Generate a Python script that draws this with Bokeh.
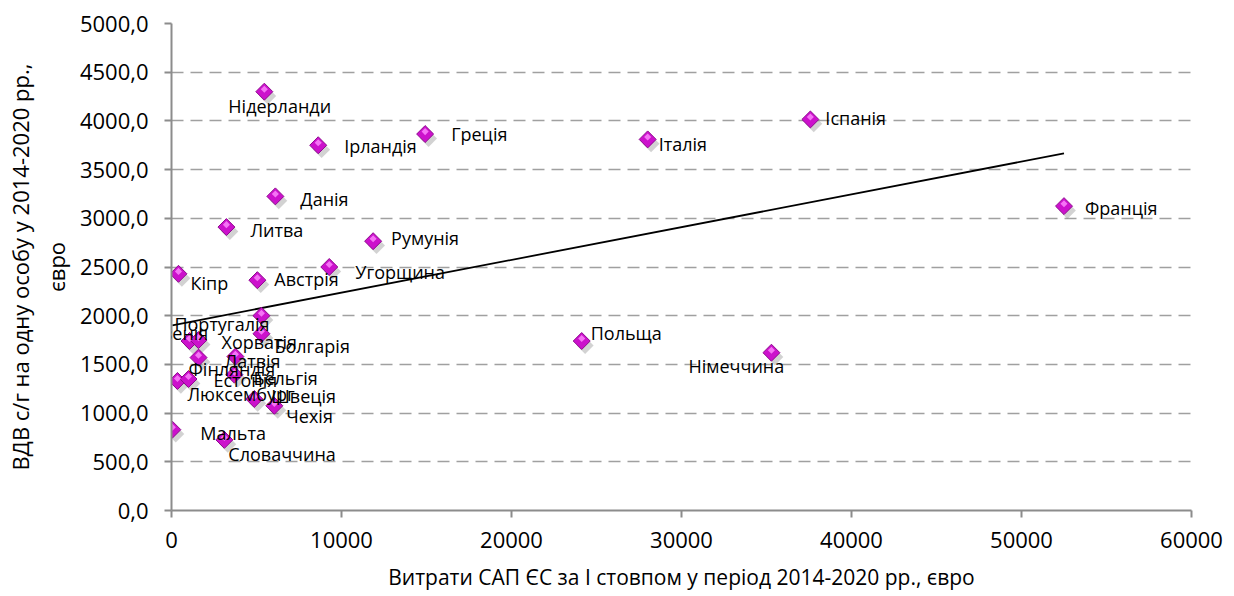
import numpy as np
from bokeh.plotting import figure
from bokeh.models import ColumnDataSource, CustomJSTickFormatter, FixedTicker, Label
from bokeh.transform import dodge
from bokeh.embed import file_html
from bokeh.resources import INLINE

# ---- data ----
countries = ["Нідерланди", "Ірландія", "Греція", "Данія", "Литва", "Румунія", "Угорщина",
             "Австрія", "Кіпр", "Італія", "Іспанія", "Франція", "Польща", "Німеччина",
             "Португалія", "Болгарія", "Словенія", "Хорватія", "Латвія", "Естонія",
             "Бельгія", "Люксембург", "Фінляндія", "Швеція", "Чехія", "Мальта", "Словаччина"]
cap_spending = [5460, 8630, 14920, 6110, 3230, 11860, 9280,
                5050, 410, 28010, 37580, 52500, 24130, 35290,
                5290, 5290, 1060, 1590, 1590, 3760,
                3700, 350, 1000, 4870, 6050, 50, 3110]
gva_per_person = [4300, 3750, 3865, 3225, 2910, 2765, 2500,
                  2365, 2430, 3810, 4015, 3125, 1740, 1620,
                  2000, 1815, 1740, 1750, 1570, 1580,
                  1395, 1330, 1350, 1145, 1075, 830, 725]

x_ticks = [0, 10000, 20000, 30000, 40000, 50000, 60000]
y_ticks = [0, 500, 1000, 1500, 2000, 2500, 3000, 3500, 4000, 4500, 5000]

# ---- label placement (screen px, layout only; dy positive = down) ----
label_dx = [-36, 26, 26, 25, 24, 18, 26, 17, 12, 11, 15, 21, 9, -83,
            -87, 13, -60, 23, 26, -22, 19, 10, 0, 17, 12, 28, 4]
label_dy = [14, 1, 0, 3, 3, -3, 5, -1, 9, 5, -1, 2, -8, 13,
            8, 12, -8, 2, 3, 23, 3, 13, -10, -3, 10, 3, 14]

src = ColumnDataSource(dict(x=cap_spending, y=gva_per_person, name=countries))

FONT = "Open Sans"

p = figure(width=1226, height=594, output_backend="svg", toolbar_location=None,
           x_range=(0, 60000), y_range=(0, 5000),
           min_border_left=171, min_border_right=35, min_border_top=23, min_border_bottom=84)
p.outline_line_color = None
p.background_fill_color = "white"
p.border_fill_color = "white"

# grid
p.xgrid.grid_line_color = None
p.ygrid.ticker = FixedTicker(ticks=y_ticks[1:])
p.ygrid.grid_line_color = "#A0A0A0"
p.ygrid.grid_line_width = 1.6
p.ygrid.grid_line_dash = "12 7"

# axes
p.xaxis.ticker = FixedTicker(ticks=x_ticks)
p.yaxis.ticker = FixedTicker(ticks=y_ticks)
p.yaxis.formatter = CustomJSTickFormatter(code="return tick.toFixed(1).replace('.', ',');")
for ax in (p.xaxis[0], p.yaxis[0]):
    ax.axis_line_color = "#8C8C8C"
    ax.axis_line_width = 2
    ax.major_tick_line_color = "#8C8C8C"
    ax.major_tick_line_width = 2
    ax.major_tick_out = 7
    ax.major_tick_in = 0
    ax.minor_tick_line_color = None
    ax.major_label_text_font = FONT
    ax.major_label_text_font_size = "22px"
    ax.major_label_text_color = "black"
    ax.axis_label_text_font = FONT
    ax.axis_label_text_font_style = "normal"
    ax.axis_label_text_color = "black"

p.xaxis.axis_label = "Витрати САП ЄС за І стовпом у період 2014-2020 рр., євро"
p.yaxis.axis_label = "ВДВ с/г на одну особу у 2014-2020 рр.,\nєвро"
p.xaxis.axis_label_text_font_size = "21px"
p.yaxis.axis_label_text_font_size = "22px"
p.xaxis.major_label_standoff = 14
p.yaxis.major_label_standoff = 16
p.xaxis.axis_label_standoff = 12
p.yaxis.axis_label_standoff = 6

# trend line (least squares through the data)
xs = np.array(cap_spending, dtype=float)
ys = np.array(gva_per_person, dtype=float)
k, b = np.polyfit(xs, ys, 1)
tx = [xs.min(), xs.max()]
p.line(tx, [k * v + b for v in tx], line_color="black", line_width=1.8)

# markers: shadow, body, highlight
p.scatter(x=dodge("x", 200), y=dodge("y", -45), source=src, marker="square", size=12,
          angle=np.pi / 4, fill_color="#7F7F7F", fill_alpha=0.35, line_color=None)
p.scatter(x="x", y="y", source=src, marker="square", size=12, angle=np.pi / 4,
          fill_color="#CC11CC", line_color="#8E0A8E", line_width=1)
p.scatter(x="x", y=dodge("y", 25), source=src, marker="square", size=5, angle=np.pi / 4,
          fill_color="#FF8CFF", fill_alpha=0.8, line_color=None)

# data labels (annotations, positioned at each data point)
for name, xv, yv, dx, dy in zip(countries, cap_spending, gva_per_person, label_dx, label_dy):
    p.add_layout(Label(x=xv, y=yv, text=name, x_offset=dx, y_offset=-dy,
                       text_font=FONT, text_font_size="18px", text_color="black",
                       text_align="left", text_baseline="middle"))

open("out.html", "w").write(file_html(p, INLINE))
